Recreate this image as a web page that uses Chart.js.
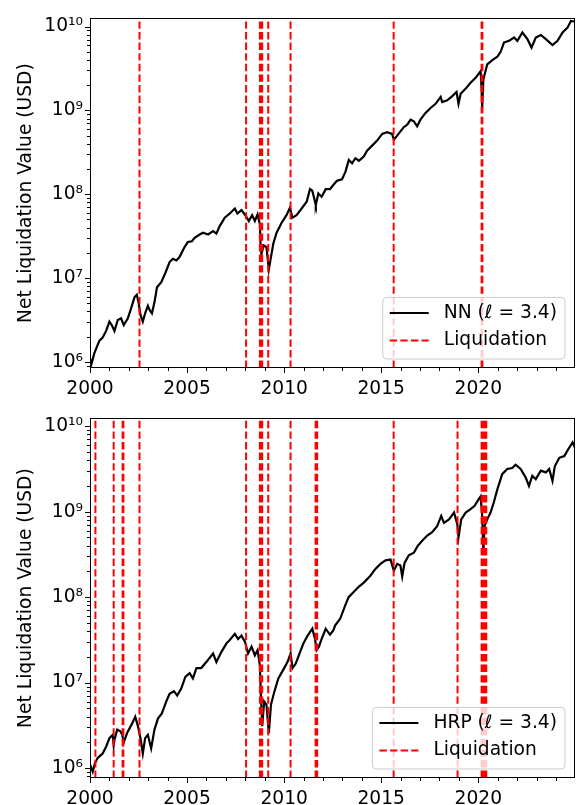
<!DOCTYPE html>
<html>
<head>
<meta charset="utf-8">
<script src="https://cdn.jsdelivr.net/npm/chart.js@4.4.1/dist/chart.umd.min.js"></script>
<style>
  html, body { margin: 0; padding: 0; background: #fff; }
  canvas { display: block; }
</style>
</head>
<body>
<canvas id="nnChart" width="578" height="400"></canvas>
<canvas id="hrpChart" width="578" height="405"></canvas>
<script>
// NN strategy, net liquidation value (USD)
const nnYears = [
  2000.00, 2000.08, 2000.22, 2000.48, 2000.65, 2000.83,
  2001.00, 2001.12, 2001.26, 2001.43, 2001.60, 2001.74, 2001.95,
  2002.12, 2002.29, 2002.41, 2002.50, 2002.60, 2002.72, 2002.84, 2002.98,
  2003.07, 2003.19, 2003.32, 2003.45, 2003.67, 2003.88,
  2004.10, 2004.27, 2004.45, 2004.61, 2004.87,
  2005.04, 2005.25, 2005.39, 2005.65, 2005.82,
  2006.08, 2006.34, 2006.51, 2006.68, 2006.94,
  2007.20, 2007.46, 2007.59, 2007.80,
  2008.00, 2008.18, 2008.35, 2008.49, 2008.63, 2008.75, 2008.78, 2008.83, 2008.95,
  2009.09, 2009.21, 2009.32, 2009.44, 2009.61, 2009.87,
  2010.12, 2010.30, 2010.42, 2010.64, 2010.90,
  2011.16, 2011.33, 2011.45, 2011.59, 2011.63, 2011.76, 2011.93,
  2012.14, 2012.36, 2012.53, 2012.72, 2012.98,
  2013.16, 2013.33, 2013.50, 2013.67, 2013.85,
  2014.10, 2014.27, 2014.53, 2014.79,
  2015.05, 2015.30, 2015.56, 2015.65, 2015.82, 2015.99,
  2016.16, 2016.34, 2016.51, 2016.68, 2016.85,
  2017.02, 2017.28, 2017.54, 2017.80,
  2018.06, 2018.14, 2018.40, 2018.66, 2018.88, 2018.98,
  2019.09, 2019.35, 2019.60, 2019.86,
  2020.12, 2020.17, 2020.20, 2020.26, 2020.46, 2020.72, 2020.98,
  2021.15, 2021.32, 2021.58, 2021.84,
  2022.01, 2022.27, 2022.53, 2022.74, 2022.96,
  2023.22, 2023.48, 2023.82,
  2024.08, 2024.34, 2024.60, 2024.77, 2024.94
];
const nnValues = [
  1.10e6, 0.95e6, 1.26e6, 1.78e6, 1.95e6, 2.34e6,
  3.02e6, 2.75e6, 2.34e6, 3.16e6, 3.31e6, 2.75e6, 3.31e6,
  4.37e6, 5.89e6, 6.31e6, 5.13e6, 3.63e6, 3.02e6, 3.80e6, 4.68e6,
  4.17e6, 3.80e6, 5.13e6, 7.76e6, 8.91e6, 1.15e7,
  1.55e7, 1.70e7, 1.62e7, 1.78e7, 2.34e7,
  2.69e7, 2.75e7, 3.02e7, 3.31e7, 3.47e7,
  3.31e7, 3.63e7, 3.39e7, 4.17e7, 5.25e7,
  5.89e7, 6.76e7, 5.89e7, 6.46e7,
  5.62e7, 4.79e7, 5.62e7, 4.79e7, 5.75e7, 4.37e7, 2.57e7, 1.95e7, 2.45e7,
  2.34e7, 1.26e7, 1.78e7, 2.57e7, 3.47e7, 4.57e7,
  5.62e7, 6.92e7, 5.25e7, 5.62e7, 6.76e7,
  8.13e7, 1.15e8, 1.10e8, 8.13e7, 7.41e7, 1.02e8, 9.33e7,
  1.15e8, 1.15e8, 1.29e8, 1.45e8, 1.51e8,
  1.86e8, 2.57e8, 2.34e8, 2.69e8, 2.51e8,
  2.82e8, 3.31e8, 3.80e8, 4.37e8,
  5.25e8, 5.50e8, 5.25e8, 4.47e8, 5.01e8, 5.62e8,
  6.31e8, 6.76e8, 7.76e8, 7.41e8, 6.46e8,
  7.76e8, 9.33e8, 1.07e9, 1.20e9,
  1.45e9, 1.26e9, 1.32e9, 1.48e9, 1.66e9, 1.20e9,
  1.58e9, 1.82e9, 2.14e9, 2.45e9,
  2.95e9, 1.78e9, 1.07e9, 2.34e9, 3.55e9, 3.98e9, 4.37e9,
  5.01e9, 6.46e9, 6.76e9, 7.41e9,
  6.76e9, 8.51e9, 7.08e9, 5.62e9, 7.41e9,
  7.94e9, 7.08e9, 6.03e9,
  6.76e9, 8.51e9, 9.77e9, 1.17e10, 1.15e10
];

// HRP strategy
const hrpYears = [
  2000.00, 2000.14, 2000.26, 2000.40, 2000.65, 2000.83,
  2001.00, 2001.17, 2001.22, 2001.26, 2001.40, 2001.57, 2001.67, 2001.72, 2001.91,
  2002.12, 2002.33, 2002.46, 2002.60, 2002.72, 2002.84, 2002.98,
  2003.15, 2003.32, 2003.50, 2003.70, 2003.93,
  2004.10, 2004.32, 2004.49, 2004.70, 2004.91,
  2005.13, 2005.30, 2005.48, 2005.73, 2005.99,
  2006.34, 2006.51, 2006.77,
  2007.03, 2007.20, 2007.46, 2007.63, 2007.80, 2007.98,
  2008.14, 2008.32, 2008.49, 2008.63, 2008.75, 2008.80, 2008.87, 2008.97,
  2009.09, 2009.21, 2009.32, 2009.49, 2009.70, 2009.95,
  2010.17, 2010.33, 2010.43, 2010.59, 2010.76, 2010.99,
  2011.21, 2011.45, 2011.59, 2011.67, 2011.79, 2011.93,
  2012.14, 2012.36, 2012.53, 2012.63, 2012.89,
  2013.14, 2013.32, 2013.58, 2013.84,
  2014.10, 2014.44, 2014.70, 2014.96,
  2015.22, 2015.48, 2015.65, 2015.82, 2015.99,
  2016.08, 2016.20, 2016.42, 2016.68, 2016.88,
  2017.11, 2017.37, 2017.62, 2017.88,
  2018.09, 2018.23, 2018.49, 2018.75, 2018.92, 2018.98,
  2019.12, 2019.35, 2019.60, 2019.81,
  2020.03, 2020.12, 2020.20, 2020.26, 2020.32, 2020.46, 2020.63, 2020.80, 2020.98,
  2021.23, 2021.49, 2021.75, 2021.92,
  2022.18, 2022.44, 2022.61, 2022.78, 2022.96,
  2023.22, 2023.48, 2023.65, 2023.82, 2023.94,
  2024.17, 2024.43, 2024.63, 2024.86, 2024.97
];
const hrpValues = [
  1.10e6, 0.91e6, 1.15e6, 1.32e6, 1.48e6, 1.78e6,
  2.24e6, 2.45e6, 1.86e6, 2.14e6, 2.82e6, 2.69e6, 2.45e6, 1.95e6, 2.57e6,
  3.16e6, 3.98e6, 3.16e6, 2.24e6, 1.48e6, 2.24e6, 2.45e6,
  1.70e6, 2.82e6, 3.80e6, 4.37e6, 6.03e6,
  7.41e6, 7.94e6, 7.08e6, 8.51e6, 1.17e7,
  1.29e7, 1.12e7, 1.48e7, 1.48e7, 1.74e7,
  2.19e7, 1.74e7, 2.29e7,
  2.88e7, 3.16e7, 3.72e7, 3.24e7, 3.55e7, 3.02e7,
  2.19e7, 2.63e7, 2.09e7, 2.40e7, 1.58e7, 7.08e6, 3.09e6, 6.03e6,
  5.50e6, 2.57e6, 5.50e6, 7.76e6, 1.12e7, 1.41e7,
  1.74e7, 2.19e7, 1.48e7, 1.66e7, 2.09e7, 2.88e7,
  3.55e7, 4.27e7, 3.24e7, 2.40e7, 2.63e7, 3.24e7,
  4.27e7, 3.63e7, 4.07e7, 4.68e7, 5.62e7,
  7.94e7, 1.00e8, 1.15e8, 1.32e8,
  1.48e8, 1.78e8, 2.14e8, 2.45e8,
  2.69e8, 2.75e8, 2.04e8, 2.45e8, 2.34e8,
  1.74e8, 2.51e8, 3.09e8, 3.31e8, 3.98e8,
  4.57e8, 5.25e8, 5.75e8, 6.76e8,
  8.91e8, 7.41e8, 8.13e8, 9.77e8, 7.08e8, 5.01e8,
  8.13e8, 9.77e8, 1.07e9, 1.17e9,
  1.41e9, 1.51e9, 8.91e8, 3.31e8, 6.76e8, 8.13e8, 9.77e8, 1.29e9, 1.82e9,
  2.75e9, 3.16e9, 3.24e9, 3.55e9,
  3.16e9, 2.51e9, 2.00e9, 2.63e9, 2.40e9,
  3.02e9, 2.88e9, 3.16e9, 2.29e9, 3.39e9,
  4.27e9, 4.47e9, 5.37e9, 6.46e9, 5.62e9
];

// liquidation events (fractional year)
const nnLiquidations = [2002.55, 2008.04, 2008.75, 2008.79, 2008.83, 2008.87, 2009.18,
  2010.33, 2015.64, 2020.17, 2020.21];
const hrpLiquidations = [2000.28, 2001.22, 2001.68, 2001.72, 2002.55, 2008.04,
  2008.75, 2008.79, 2008.83, 2008.87, 2009.18, 2010.33, 2011.62, 2011.66, 2011.70,
  2015.64, 2018.93, 2020.17, 2020.21, 2020.25, 2020.29, 2020.33, 2020.37, 2020.41];

const xTickYears = [2000, 2005, 2010, 2015, 2020];
const yTickValues = [1e6, 1e7, 1e8, 1e9, 1e10];
const yTickLabels = ['10⁶', '10⁷', '10⁸', '10⁹', '10¹⁰'];

const FONT = 'DejaVu Sans';
const FONT_SIZE = 18.67;
Chart.defaults.font.family = FONT;
Chart.defaults.font.size = FONT_SIZE;
Chart.defaults.color = '#000';

function toPoints(xs, ys) {
  return xs.map((x, i) => ({ x: x, y: ys[i] }));
}

// each event: a vertical segment bottom -> top, then a gap
function liquidationPoints(years, yMin, yMax) {
  const pts = [];
  years.forEach(yr => {
    pts.push({ x: yr, y: yMin }, { x: yr, y: yMax }, { x: yr, y: null });
  });
  return pts;
}

// spines + matplotlib style outward ticks (major and minor)
const frame = {
  id: 'frame',
  afterDatasetsDraw(chart) {
    const { ctx, chartArea: a, scales: { x, y } } = chart;
    ctx.save();
    ctx.strokeStyle = '#000';
    ctx.lineWidth = 1;
    ctx.beginPath();
    for (let yr = Math.ceil(x.min); yr <= x.max; yr++) {
      const px = Math.round(x.getPixelForValue(yr)) + 0.5;
      const len = yr % 5 === 0 ? 5 : 3;
      ctx.moveTo(px, a.bottom);
      ctx.lineTo(px, a.bottom + len);
    }
    for (let e = 5; e <= 10; e++) {
      for (let m = 1; m <= 9; m++) {
        const v = m * Math.pow(10, e);
        if (v < y.min || v > y.max) continue;
        const py = Math.round(y.getPixelForValue(v)) + 0.5;
        ctx.moveTo(a.left, py);
        ctx.lineTo(a.left - (m === 1 ? 5 : 3), py);
      }
    }
    ctx.stroke();
    ctx.strokeRect(Math.round(a.left) + 0.5, Math.round(a.top) + 0.5,
      Math.round(a.right - a.left) - 1, Math.round(a.bottom - a.top) - 1);
    ctx.restore();
  }
};

// legend box inside the plot, lower right
const boxLegend = {
  id: 'boxLegend',
  afterDraw(chart) {
    const { ctx, chartArea: a } = chart;
    const sets = chart.data.datasets;
    ctx.save();
    ctx.font = FONT_SIZE + 'px "' + FONT + '"';
    const textW = Math.max(...sets.map(d => ctx.measureText(d.label).width));
    const w = 7 + 39 + 15 + textW + 8;
    const h = 61.6;
    const x0 = a.right - 10 - w;
    const y0 = a.bottom - 9 - h;
    ctx.beginPath();
    ctx.roundRect(x0, y0, w, h, 4);
    ctx.fillStyle = 'rgba(255,255,255,0.8)';
    ctx.fill();
    ctx.strokeStyle = '#cccccc';
    ctx.lineWidth = 1;
    ctx.stroke();
    sets.forEach((d, i) => {
      const cy = y0 + 15.6 + i * 27.4;
      ctx.beginPath();
      ctx.setLineDash(d.borderDash || []);
      ctx.strokeStyle = d.borderColor;
      ctx.lineWidth = d.borderWidth;
      ctx.moveTo(x0 + 7, cy);
      ctx.lineTo(x0 + 46, cy);
      ctx.stroke();
      ctx.setLineDash([]);
      ctx.fillStyle = '#000';
      ctx.textBaseline = 'middle';
      ctx.fillText(d.label, x0 + 61, cy);
    });
    ctx.restore();
  }
};

function makeChart(id, label, years, values, liquidations, yMin, yMax, padTop, xAxisHeight) {
  return new Chart(document.getElementById(id), {
    type: 'line',
    data: {
      datasets: [
        {
          label: label,
          data: toPoints(years, values),
          borderColor: '#000000',
          borderWidth: 2.2,
          pointRadius: 0,
          tension: 0,
          order: 1
        },
        {
          label: 'Liquidation',
          data: liquidationPoints(liquidations, yMin, yMax),
          borderColor: '#ff0000',
          borderWidth: 2,
          borderDash: [7.4, 3.2],
          pointRadius: 0,
          spanGaps: false,
          order: 0
        }
      ]
    },
    options: {
      responsive: false,
      animation: false,
      events: [],
      layout: { padding: { top: padTop, right: 3, left: 0, bottom: 0 } },
      plugins: { legend: { display: false }, tooltip: { enabled: false } },
      scales: {
        x: {
          type: 'linear',
          min: 2000,
          max: 2024.98,
          grid: { display: false, drawTicks: false },
          border: { display: false },
          afterBuildTicks: s => { s.ticks = xTickYears.map(v => ({ value: v })); },
          afterFit: s => { s.height = xAxisHeight; },
          ticks: { padding: 10, maxRotation: 0, autoSkip: false, callback: v => String(v) }
        },
        y: {
          type: 'logarithmic',
          min: yMin,
          max: yMax,
          grid: { display: false, drawTicks: false },
          border: { display: false },
          afterBuildTicks: s => {
            s.ticks = yTickValues.filter(v => v >= yMin && v <= yMax).map(v => ({ value: v }));
          },
          afterFit: s => { s.width = 90; },
          ticks: { padding: 7, autoSkip: false, callback: v => yTickLabels[yTickValues.indexOf(v)] },
          title: {
            display: true,
            text: 'Net Liquidation Value (USD)',
            padding: { top: 15, bottom: 0 }
          }
        }
      }
    },
    plugins: [frame, boxLegend]
  });
}

makeChart('nnChart', 'NN (ℓ = 3.4)', nnYears, nnValues, nnLiquidations, 8.45e5, 1.26e10, 7, 32);
makeChart('hrpChart', 'HRP (ℓ = 3.4)', hrpYears, hrpValues, hrpLiquidations, 7.66e5, 1.24e10, 17, 27);
</script>
</body>
</html>
